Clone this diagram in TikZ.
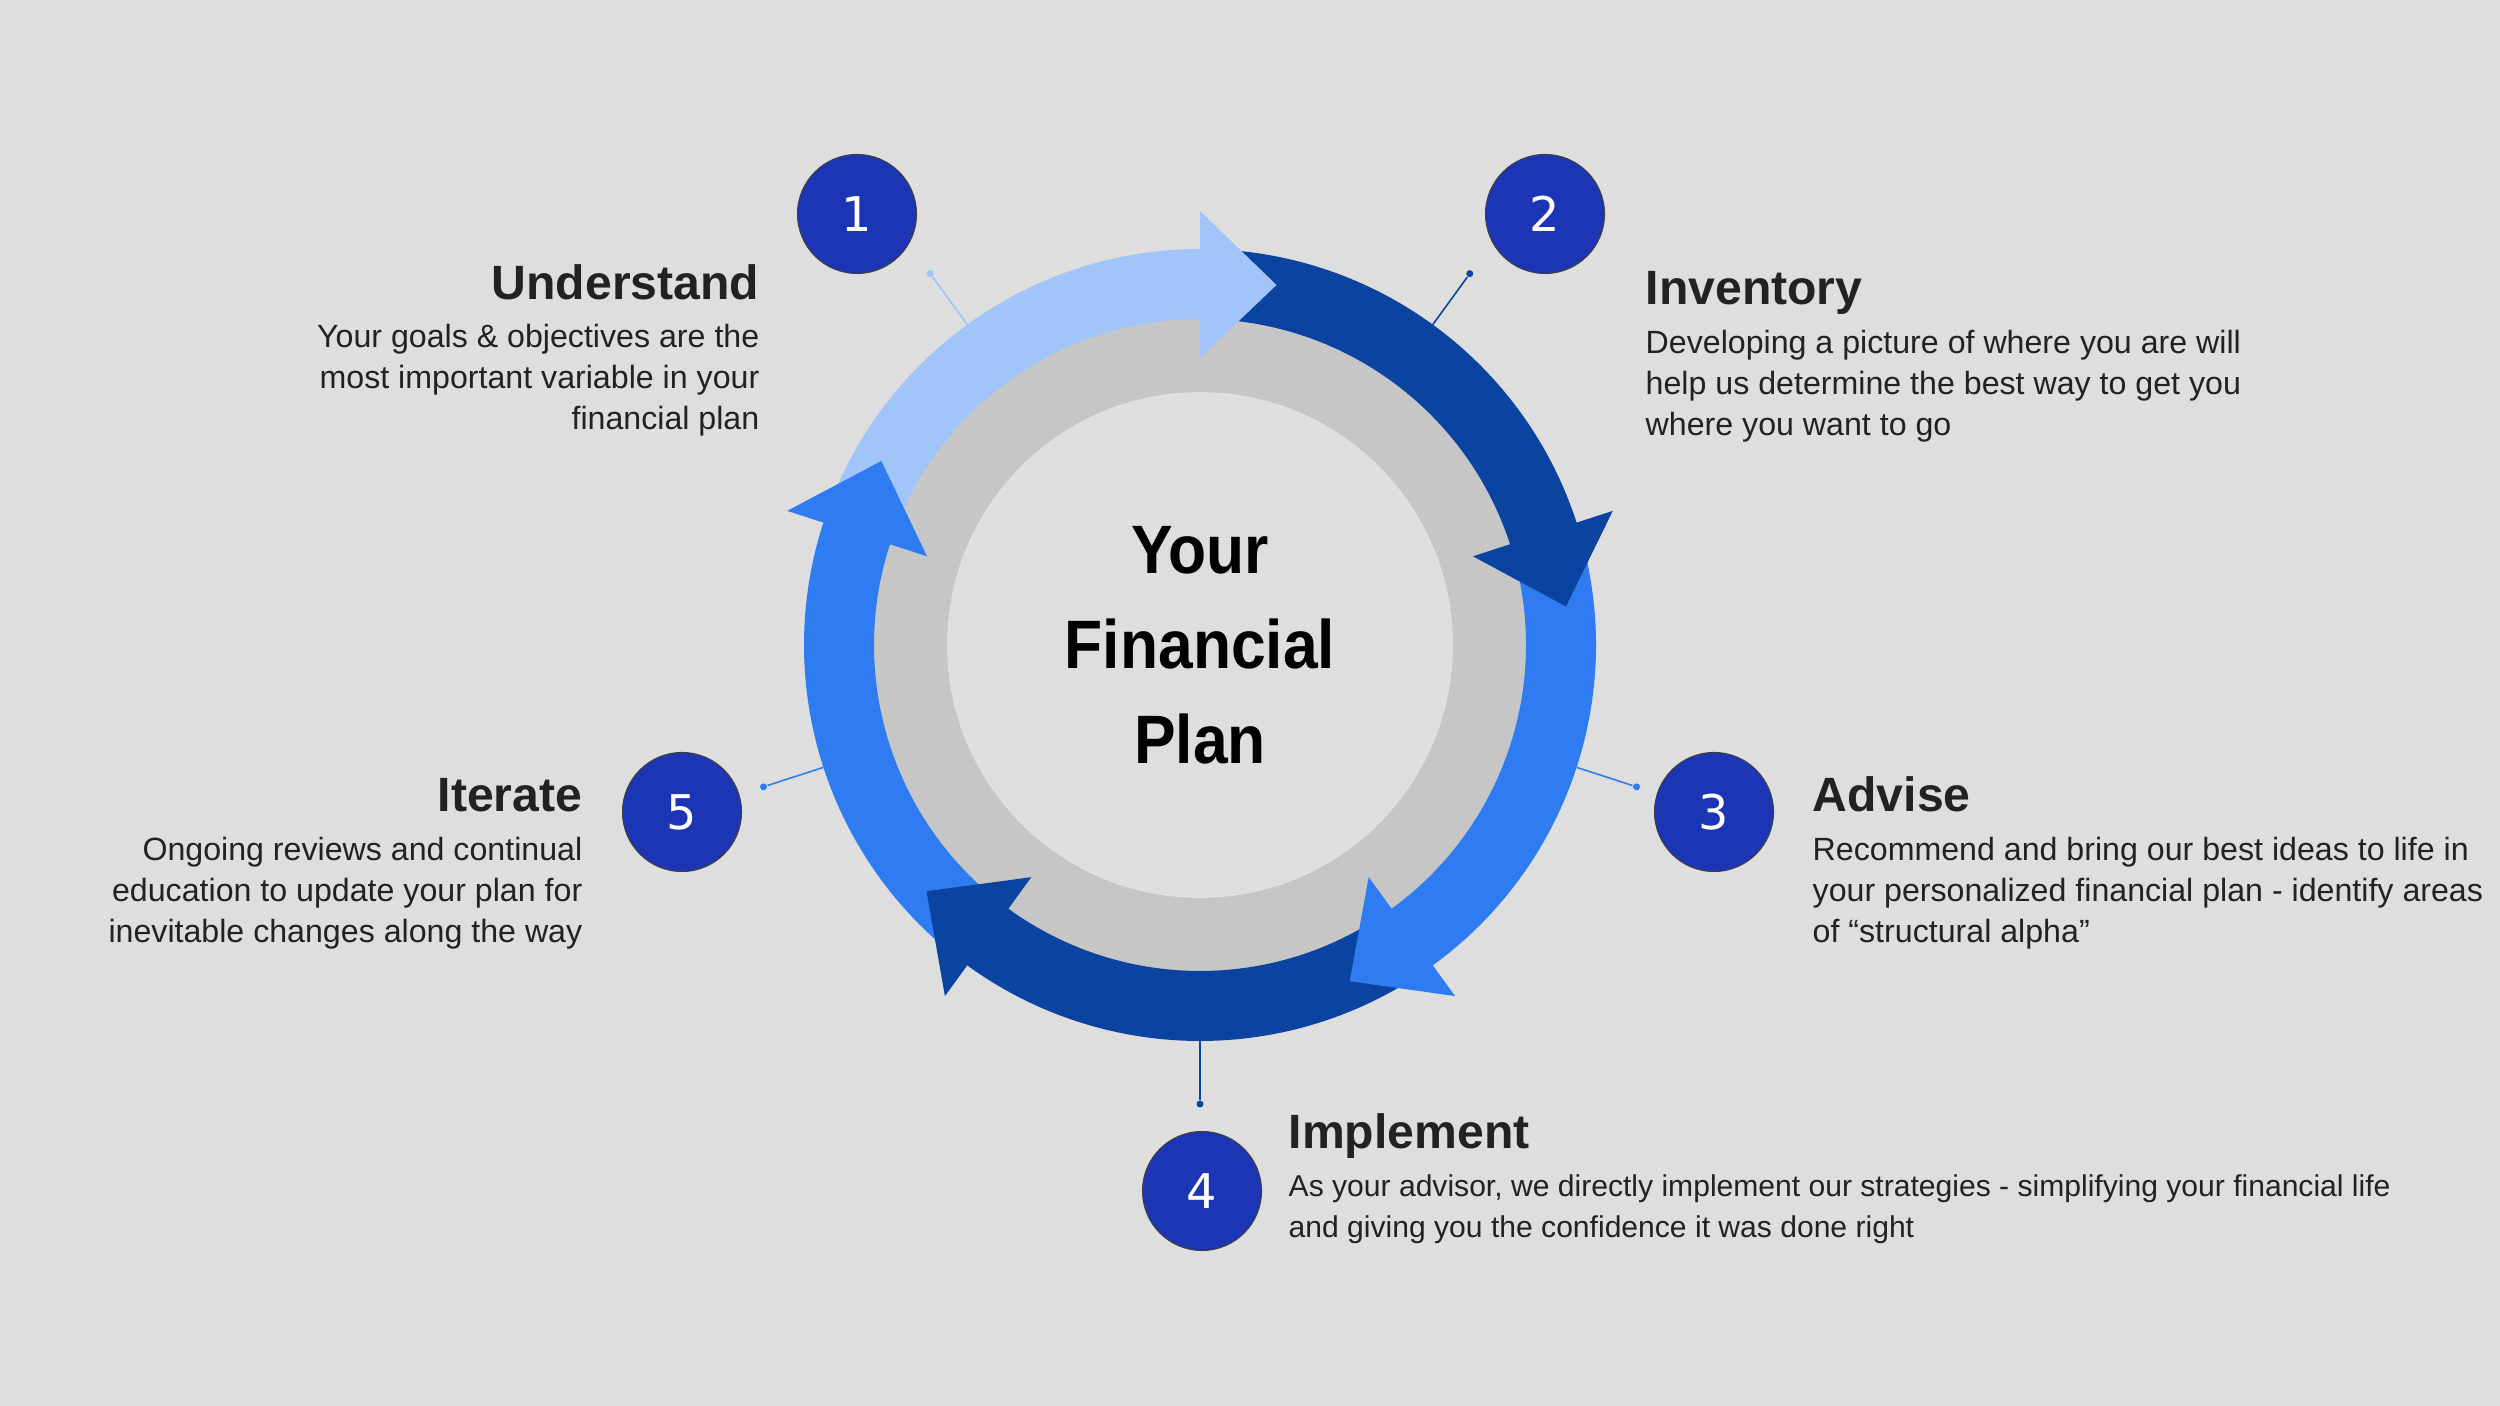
\documentclass[tikz,border=0pt]{standalone}
\usepackage{fontspec}
\setmainfont{Liberation Sans}
\newfontfamily\digitfont{DejaVu Sans}
\newfontfamily\plainfont[FakeStretch=0.91]{Liberation Sans}
\usetikzlibrary{positioning}
\definecolor{fpbg}{HTML}{DEDEDE}
\definecolor{fplight}{HTML}{A1C4F9}
\definecolor{fpdark}{HTML}{0B43A1}
\definecolor{fpmid}{HTML}{2F7BF1}
\definecolor{fpnum}{HTML}{1B35B4}
\definecolor{fpring}{HTML}{C6C6C6}
\definecolor{fptext}{HTML}{222222}
\tikzset{
  fp step head/.style={
    font=\fontsize{13.7}{16}\selectfont\bfseries,
    text=fptext,
    inner sep=0pt
  },
  fp step body/.style={
    font=\fontsize{9.15}{11.8}\selectfont,
    text=fptext,
    inner sep=0pt
  },
  fp number/.style={
    circle,
    fill=fpnum,
    draw=black!75,
    line width=0.3pt,
    minimum size=1.19cm,
    inner sep=0pt,
    text=white,
    font=\digitfont\fontsize{13.6}{16}\selectfont
  },
  fp dot/.style={
    circle,
    inner sep=0pt,
    minimum size=0.07cm
  },
  fp lead/.style={
    line width=0.45pt
  }
}

\begin{document}
\begin{tikzpicture}

  \fill[fpbg] (0,0) rectangle (25,14.06);
  \useasboundingbox (0,0) rectangle (25,14.06);

  \begin{scope}[shift={(12,7.61)}]
    \fill[fpring] (0,0) circle[radius=3.6];
    \fill[fpbg] (0,0) circle[radius=2.52];
    \draw[black!12, line width=0.5pt] (0,0) circle[radius=2.52];

    % ring bands first, heads on top
    \foreach \k/\col in {0/fplight,1/fpdark,2/fpmid,3/fpdark,4/fpmid}{
      \pgfmathsetmacro\b{90-72*\k}
      \fill[\col] (\b+66:3.96) arc[start angle=\b+66, end angle=\b-0.5, radius=3.96]
        -- (\b-0.5:3.26) arc[start angle=\b-0.5, end angle=\b+66, radius=3.26] -- cycle;
    }
    \foreach \k/\col in {0/fplight,1/fpdark,2/fpmid,3/fpdark,4/fpmid}{
      \pgfmathsetmacro\b{90-72*\k}
      \fill[\col] (\b:2.87) -- (\b:4.34) -- (\b-12:3.68) -- cycle;
    }

    % leader lines
    \foreach \n/\a/\col in {1/126/fplight,2/54/fpdark,3/-18/fpmid,4/-90/fpdark,5/198/fpmid}{
      \coordinate (e\n) at (\a:3.96);
      \node[fp dot, fill=\col] (d\n) at (\a:4.59) {};
      \draw[fp lead, \col] (e\n) -- (d\n);
    }

    \node[font=\plainfont\fontsize{19.5}{27}\selectfont\bfseries, align=center,
          inner sep=0pt] (plan) at (0,0) {Your\\Financial\\Plan};
  \end{scope}

  \node[fp number] (n1) at (8.57,11.92) {1};
  \node[fp number] (n2) at (15.45,11.92) {2};
  \node[fp number] (n3) at (17.14,5.94) {3};
  \node[fp number] (n4) at (12.02,2.15) {4};
  \node[fp number] (n5) at (6.82,5.94) {5};

  % body anchors sit on the last line
  \node[fp step head, anchor=base east] (understand) at (7.60,11.06) {Understand};
  \node[fp step body, anchor=base east, align=right] (understand text) at (7.60,9.76)
    {Your goals \& objectives are the\\most important variable in your\\financial plan};

  \node[fp step head, anchor=base west] (inventory) at (16.45,11.01) {Inventory};
  \node[fp step body, anchor=base west, align=left] (inventory text) at (16.45,9.70)
    {Developing a picture of where you are will\\help us determine the best way to get you\\where you want to go};

  \node[fp step head, anchor=base west] (advise) at (18.12,5.94) {Advise};
  \node[fp step body, anchor=base west, align=left] (advise text) at (18.12,4.63)
    {Recommend and bring our best ideas to life in\\your personalized financial plan - identify areas\\of “structural alpha”};

  \node[fp step head, anchor=base west] (implement) at (12.88,2.57) {Implement};
  \node[fp step body, font=\fontsize{8.56}{11.8}\selectfont, anchor=base west, align=left]
    (implement text) at (12.88,1.68)
    {As your advisor, we directly implement our strategies - simplifying your financial life\\and giving you the confidence it was done right};

  \node[fp step head, anchor=base east] (iterate) at (5.83,5.94) {Iterate};
  \node[fp step body, anchor=base east, align=right] (iterate text) at (5.83,4.63)
    {Ongoing reviews and continual\\education to update your plan for\\inevitable changes along the way};

\end{tikzpicture}
\end{document}
